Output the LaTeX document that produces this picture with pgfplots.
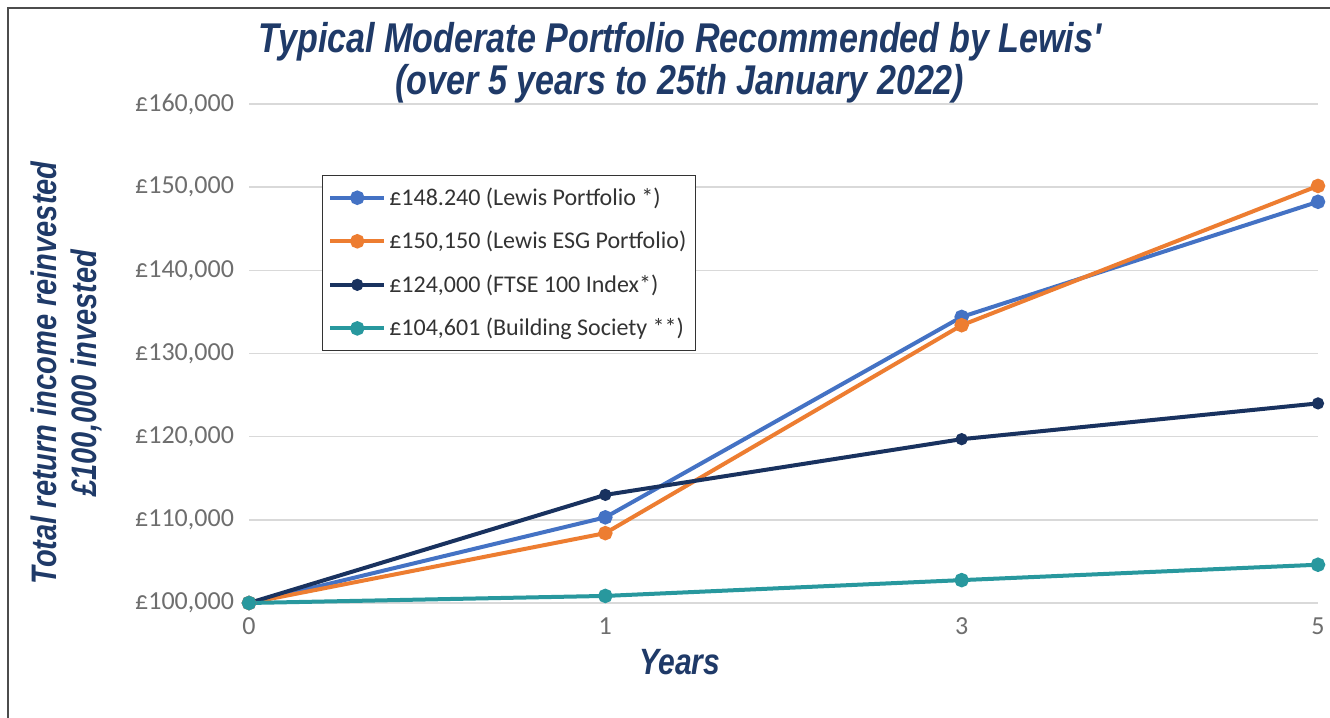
\documentclass[border=0pt]{standalone}
\usepackage{fontspec}
\setmainfont{Carlito}
\newfontfamily\titlefont[FakeStretch=0.82]{Liberation Sans}
\usepackage{pgfplots}
\pgfplotsset{compat=1.18}
\definecolor{cblue}{RGB}{68,114,196}
\definecolor{corange}{RGB}{237,125,49}
\definecolor{cnavy}{RGB}{25,50,95}
\definecolor{cteal}{RGB}{40,152,158}
\definecolor{ctitle}{RGB}{31,58,104}
\definecolor{cgrid}{RGB}{217,217,217}
\definecolor{ctick}{RGB}{110,110,110}
\begin{document}
\begin{tikzpicture}[x=1pt,y=1pt]
\useasboundingbox (0,0) rectangle (665,359);
\fill[white] (0,0) rectangle (665,359);
\draw[line width=1pt, color=black!70] (4,-2) -- (4,355) -- (667,355);
\node[align=center, text=ctitle, font=\titlefont\bfseries\itshape\fontsize{20.8}{21}\selectfont] at (340,327.5) {Typical Moderate Portfolio Recommended by Lewis'\\(over 5 years to 25th January 2022)};
\node[rotate=90, align=center, text=ctitle, font=\titlefont\bfseries\itshape\fontsize{17.7}{20}\selectfont] at (33,172.5) {Total return income reinvested\\\pounds100,000 invested};
\node[text=ctitle, font=\titlefont\bfseries\itshape\fontsize{18.3}{20}\selectfont] at (340,28) {Years};
\begin{axis}[
  at={(124.5pt,57.5pt)}, anchor=south west,
  scale only axis, width=534.5pt, height=249.5pt,
  xmin=0, xmax=3, ymin=100000, ymax=160000,
  scaled y ticks=false,
  xtick={0,1,2,3}, xticklabels={0,1,3,5},
  ytick={100000,110000,120000,130000,140000,150000,160000},
  yticklabels={{£100,000},{£110,000},{£120,000},{£130,000},{£140,000},{£150,000},{£160,000}},
  axis line style={draw=none},
  major tick length=0pt,
  ymajorgrids, grid style={cgrid, line width=0.8pt},
  yticklabel style={font=\fontsize{13}{15}\selectfont, text=ctick, anchor=east, xshift=-4pt},
  xticklabel style={font=\fontsize{13}{15}\selectfont, text=ctick, yshift=-4pt},
  clip=false,
  legend cell align=left,
  legend style={at={(0.068,0.858)}, anchor=north west, draw=black!80, line width=0.6pt,
    font=\fontsize{12}{14}\selectfont, text=black!80, row sep=8.5pt, inner xsep=3pt, inner ysep=4.5pt,
    nodes={inner sep=1.5pt}},
  legend image code/.code={\draw[mark repeat=2,mark phase=2,#1] plot coordinates {(0pt,0pt) (13.5pt,0pt) (27pt,0pt)};},
]
\addplot[cblue, line width=2pt, mark=*, mark size=2.6pt] coordinates {(0,100000) (1,110300) (2,134400) (3,148240)};
\addlegendentry{£148.240 (Lewis Portfolio *)}
\addplot[corange, line width=2pt, mark=*, mark size=2.6pt] coordinates {(0,100000) (1,108400) (2,133400) (3,150150)};
\addlegendentry{£150,150 (Lewis ESG Portfolio)}
\addplot[cnavy, line width=2pt, mark=*, mark size=2pt] coordinates {(0,100000) (1,113000) (2,119700) (3,124000)};
\addlegendentry{£124,000 (FTSE 100 Index*)}
\addplot[cteal, line width=2pt, mark=*, mark size=2.6pt] coordinates {(0,100000) (1,100850) (2,102750) (3,104601)};
\addlegendentry{£104,601 (Building Society **)}
\end{axis}
\end{tikzpicture}
\end{document}
